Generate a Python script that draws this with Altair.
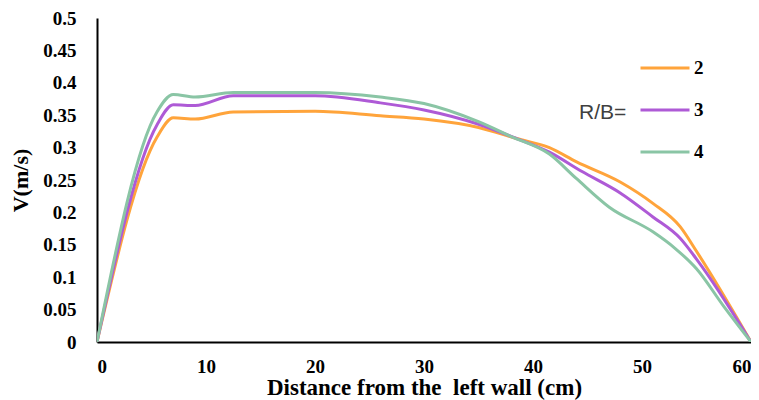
import altair as alt
import pandas as pd

# R/B = 2
x2 = [0, 5.5, 7, 9, 12.5, 20, 26, 30, 35, 38.5, 41.5, 44, 48, 51, 53.5, 55, 60]
v2 = [0, 0.316, 0.346, 0.344, 0.355, 0.356, 0.349, 0.344, 0.331, 0.314, 0.300, 0.278, 0.247, 0.214, 0.178, 0.140, 0]
# R/B = 3
x3 = [0, 5.5, 7, 9, 12.5, 20, 26, 30, 35, 38.5, 41.5, 44.5, 48, 51, 53.5, 55, 60]
v3 = [0, 0.335, 0.366, 0.365, 0.380, 0.380, 0.369, 0.358, 0.336, 0.314, 0.293, 0.263, 0.230, 0.193, 0.160, 0.128, 0]
# R/B = 4
x4 = [0, 5.5, 7, 9, 12.5, 20, 26, 30, 35, 38, 41.5, 44, 47, 51, 53, 55, 57.5, 60]
v4 = [0, 0.355, 0.382, 0.378, 0.385, 0.385, 0.378, 0.368, 0.340, 0.317, 0.290, 0.252, 0.208, 0.170, 0.145, 0.113, 0.055, 0]

series = ["2", "3", "4"]
colors = ["#FFA43B", "#AE5AD6", "#8AC5A5"]
y_ticks = [0, 0.05, 0.1, 0.15, 0.2, 0.25, 0.3, 0.35, 0.4, 0.45, 0.5]
x_ticks = [0, 10, 20, 30, 40, 50, 60]

rows = []
for s, xs, vs in zip(series, [x2, x3, x4], [v2, v3, v4]):
    for i, (a, b) in enumerate(zip(xs, vs)):
        rows.append({"series": s, "x": a, "v": b, "order": i})
df = pd.DataFrame(rows)

serif = "Liberation Serif, Times New Roman, Times, serif"
sans = "Liberation Sans, Arial, sans-serif"

lines = alt.Chart(df).mark_line(strokeWidth=3, interpolate="monotone", clip=True).encode(
    x=alt.X("x:Q", scale=alt.Scale(domain=[0, 60], nice=False),
            axis=alt.Axis(values=x_ticks, title="Distance from the\u00a0 left wall (cm)",
                          grid=False, ticks=False, domainColor="black", domainWidth=2,
                          labelFont=serif, labelFontWeight="bold", labelFontSize=19,
                          labelColor="black", labelPadding=15,
                          titleFont=serif, titleFontWeight="bold", titleFontSize=23,
                          titleColor="black", titlePadding=0)),
    y=alt.Y("v:Q", scale=alt.Scale(domain=[0, 0.5], nice=False),
            axis=alt.Axis(values=y_ticks, title="V(m/s)", format=".2~f",
                          grid=False, ticks=False, domainColor="black", domainWidth=2,
                          labelFont=serif, labelFontWeight="bold", labelFontSize=19,
                          labelColor="black", labelPadding=21,
                          titleFont=serif, titleFontWeight="bold", titleFontSize=22,
                          titleColor="black", titlePadding=10)),
    color=alt.Color("series:N", scale=alt.Scale(domain=series, range=colors),
                    legend=alt.Legend(title="R/B=", titleOrient="left", titleAnchor="middle",
                                      titleBaseline="top",
                                      titleFont=sans, titleFontWeight="normal",
                                      titleFontSize=21, titleColor="#404040", titlePadding=12,
                                      orient="none", legendX=482, legendY=24,
                                      symbolType="stroke", symbolSize=2401, symbolStrokeWidth=3,
                                      labelFont=serif, labelFontWeight="bold", labelFontSize=19,
                                      labelColor="black", labelOffset=3, rowPadding=6)),
    order="order:Q",
)

chart = lines.properties(
    width=654, height=324,
    autosize=alt.AutoSizeParams(type="none"),
    padding={"left": 89, "top": 10, "right": 0, "bottom": 60},
).configure_view(stroke=None)

chart.save("out.html", embed_options={"renderer": "svg", "actions": False})
